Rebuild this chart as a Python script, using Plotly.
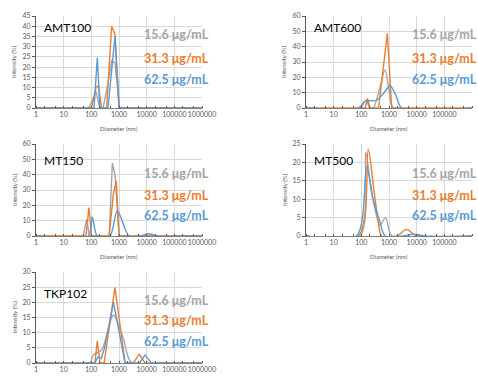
import plotly.graph_objects as go

GRAY = "#A5A5A5"
ORANGE = "#ED7D31"
BLUE = "#5B9BD5"

CONC_LABELS = ["15.6 μg/mL", "31.3 μg/mL", "62.5 μg/mL"]
PANEL_NAMES = ["AMT100", "AMT600", "MT150", "MT500", "TKP102"]
X_TICKS = [1, 10, 100, 1000, 10000, 100000, 1000000]
X_TICK_LABELS = ["1", "10", "100", "1000", "10000", "100000", "1000000"]

# AMT100
AMT100_D_GRAY = [1, 80, 120, 150, 200, 265, 400, 543, 716, 1050, 1e6]
AMT100_I_GRAY = [0, 0, 5, 8, 0, 0, 12, 23, 22, 0, 0]
AMT100_D_ORANGE = [1, 100, 148, 180, 235, 357, 543, 716, 1000, 1e6]
AMT100_I_ORANGE = [0, 0, 10, 11, 0, 0, 40, 36, 0, 0]
AMT100_D_BLUE = [1, 125, 164, 205, 400, 716, 1020, 1e6]
AMT100_I_BLUE = [0, 0, 24.5, 0, 0, 35, 0, 0]

# AMT600
AMT600_D_GRAY = [1, 75, 148, 205, 270, 450, 716, 1000, 1440, 1e6]
AMT600_I_GRAY = [0, 0, 5, 0, 0, 12, 25, 12, 0, 0]
AMT600_D_ORANGE = [1, 140, 166, 205, 420, 870, 1250, 1e6]
AMT600_I_ORANGE = [0, 0, 6.3, 0, 0, 48.7, 0, 0]
AMT600_D_BLUE = [1, 89, 135, 250, 357, 600, 1100, 1800, 2880, 1e6]
AMT600_I_BLUE = [0, 0, 4.3, 4.8, 5, 9, 14.5, 8, 0, 0]

# MT150
MT150_D_GRAY = [1, 51, 68, 85, 440, 575, 716, 1020, 1e6]
MT150_I_GRAY = [0, 0, 11, 0, 0, 47.5, 40, 0, 0]
MT150_D_ORANGE = [1, 64, 82, 102, 440, 620, 800, 1000, 1e6]
MT150_I_ORANGE = [0, 0, 18.5, 0, 0, 27, 36, 0, 0]
MT150_D_BLUE = [1, 78, 108, 164, 470, 870, 2300, 5800, 11500, 25000, 1e6]
MT150_I_BLUE = [0, 0, 12.5, 0, 0, 16.5, 0, 0, 1.5, 0, 0]

# MT500
MT500_D_GRAY = [1, 89, 144, 235, 470, 760, 1300, 1e6]
MT500_I_GRAY = [0, 0, 22.8, 12, 3, 5, 0, 0]
MT500_D_ORANGE = [1, 78, 178, 270, 410, 540, 1900, 4300, 10000, 1e6]
MT500_I_ORANGE = [0, 0, 23.6, 13.9, 3.9, 0, 0, 1.8, 0, 0]
MT500_D_BLUE = [1, 67, 155, 270, 470, 720, 3000, 8000, 20000, 1e6]
MT500_I_BLUE = [0, 0, 18.8, 9.8, 3.9, 0, 0, 0.5, 0, 0]

# TKP102
TKP102_D_GRAY = [1, 90, 117, 235, 630, 1440, 2900, 1e6]
TKP102_I_GRAY = [0, 0, 2.6, 4.3, 15.8, 8.1, 0, 0]
TKP102_D_ORANGE = [1, 135, 164, 205, 290, 716, 1660, 3300, 5400, 8700, 1e6]
TKP102_I_ORANGE = [0, 0, 7.3, 0, 0, 24.9, 0, 0, 2.9, 0, 0]
TKP102_D_BLUE = [1, 130, 175, 230, 300, 630, 1660, 5500, 8700, 15000, 1e6]
TKP102_I_BLUE = [0, 0, 2, 1.5, 5, 20, 0, 0, 2.6, 0, 0]

Y_MAX = [45, 60, 60, 25, 30]
Y_STEP = [5, 10, 10, 5, 5]

W, H = 478, 381
# plot areas in pixels: (left, right, top, bottom)
BOXES = [
    (36, 202, 16, 108),
    (306, 472, 16, 108),
    (36, 202, 144, 236),
    (306, 472, 144, 236),
    (36, 202, 272, 363),
]

PANELS = [
    [(AMT100_D_GRAY, AMT100_I_GRAY), (AMT100_D_ORANGE, AMT100_I_ORANGE), (AMT100_D_BLUE, AMT100_I_BLUE)],
    [(AMT600_D_GRAY, AMT600_I_GRAY), (AMT600_D_ORANGE, AMT600_I_ORANGE), (AMT600_D_BLUE, AMT600_I_BLUE)],
    [(MT150_D_GRAY, MT150_I_GRAY), (MT150_D_ORANGE, MT150_I_ORANGE), (MT150_D_BLUE, MT150_I_BLUE)],
    [(MT500_D_GRAY, MT500_I_GRAY), (MT500_D_ORANGE, MT500_I_ORANGE), (MT500_D_BLUE, MT500_I_BLUE)],
    [(TKP102_D_GRAY, TKP102_I_GRAY), (TKP102_D_ORANGE, TKP102_I_ORANGE), (TKP102_D_BLUE, TKP102_I_BLUE)],
]
SMOOTH = [
    ["linear", "linear", "linear"],
    ["spline", "linear", "spline"],
    ["linear", "linear", "spline"],
    ["spline", "spline", "spline"],
    ["spline", "linear", "linear"],
]
COLORS = [GRAY, ORANGE, BLUE]

# legend text rows (y in px) per panel
LEG_Y = [
    (35, 58, 79),
    (35, 58, 79),
    (173, 195, 215),
    (173, 195, 215),
    (300, 320, 341),
]
NAME_Y = [28, 28, 160, 160, 293]
LEG_X = [142, 410, 142, 410, 142]

fig = go.Figure()
layout = {}
annotations = []

FONT = "Lato, Carlito, Liberation Sans, sans-serif"
TICKFONT = dict(family=FONT, size=7, color="#595959")

for i in range(5):
    n = "" if i == 0 else str(i + 1)
    xa, ya = "x" + n, "y" + n
    l, r, t, b = BOXES[i]
    for j in range(3):
        d, v = PANELS[i][j]
        fig.add_trace(go.Scatter(
            x=d, y=v, xaxis=xa, yaxis=ya, mode="lines",
            line=dict(color=COLORS[j], width=1.4, shape=SMOOTH[i][j], smoothing=0.8),
            showlegend=False, hoverinfo="skip"))
    layout["xaxis" + n] = dict(
        domain=[l / W, r / W], anchor=ya, type="log", range=[0, 6],
        tickvals=X_TICKS, ticktext=X_TICK_LABELS, tickfont=TICKFONT, tickangle=0,
        showgrid=True, gridcolor="#D9D9D9", gridwidth=0.8,
        showline=True, linecolor="#7F7F7F", linewidth=1,
        ticks="", zeroline=False, automargin=False,
        minor=dict(ticks="inside", ticklen=2, tickcolor="#595959", tickwidth=0.8, showgrid=False),
    )
    layout["yaxis" + n] = dict(
        domain=[1 - b / H, 1 - t / H], anchor=xa, range=[0, Y_MAX[i]],
        dtick=Y_STEP[i], tick0=0, tickfont=TICKFONT, automargin=False,
        showgrid=True, gridcolor="#D9D9D9", gridwidth=0.8,
        showline=True, linecolor="#595959", linewidth=1,
        ticks="outside", ticklen=3, tickcolor="#595959", zeroline=False,
    )
    # panel name
    annotations.append(dict(
        x=(l + 6) / W, y=1 - NAME_Y[i] / H, xref="paper", yref="paper",
        text=PANEL_NAMES[i], showarrow=False, xanchor="left", yanchor="middle",
        font=dict(family=FONT, size=12, color="#000000")))
    # concentration labels
    for j in range(3):
        annotations.append(dict(
            x=LEG_X[i] / W, y=1 - LEG_Y[i][j] / H, xref="paper", yref="paper",
            text="<b>" + CONC_LABELS[j] + "</b>", showarrow=False,
            xanchor="left", yanchor="middle",
            font=dict(family=FONT, size=12.5, color=COLORS[j])))
    # axis titles
    annotations.append(dict(
        x=(l - 22) / W, y=1 - ((t + b) / 2) / H, xref="paper", yref="paper",
        text="Intensity (%)", showarrow=False, textangle=-90,
        xanchor="center", yanchor="middle",
        font=dict(family=FONT, size=6, color="#595959")))
    if i < 4:
        annotations.append(dict(
            x=((l + r) / 2) / W, y=1 - (b + 20) / H, xref="paper", yref="paper",
            text="Diameter (nm)", showarrow=False,
            xanchor="center", yanchor="middle",
            font=dict(family=FONT, size=6, color="#595959")))

fig.update_layout(
    width=W, height=H, margin=dict(l=0, r=0, t=0, b=0),
    paper_bgcolor="white", plot_bgcolor="white",
    annotations=annotations, **layout)

fig.write_html(
    "out.html",
    config={"displayModeBar": False},
    post_script="document.body.style.margin='0px';document.body.style.padding='0px';")
